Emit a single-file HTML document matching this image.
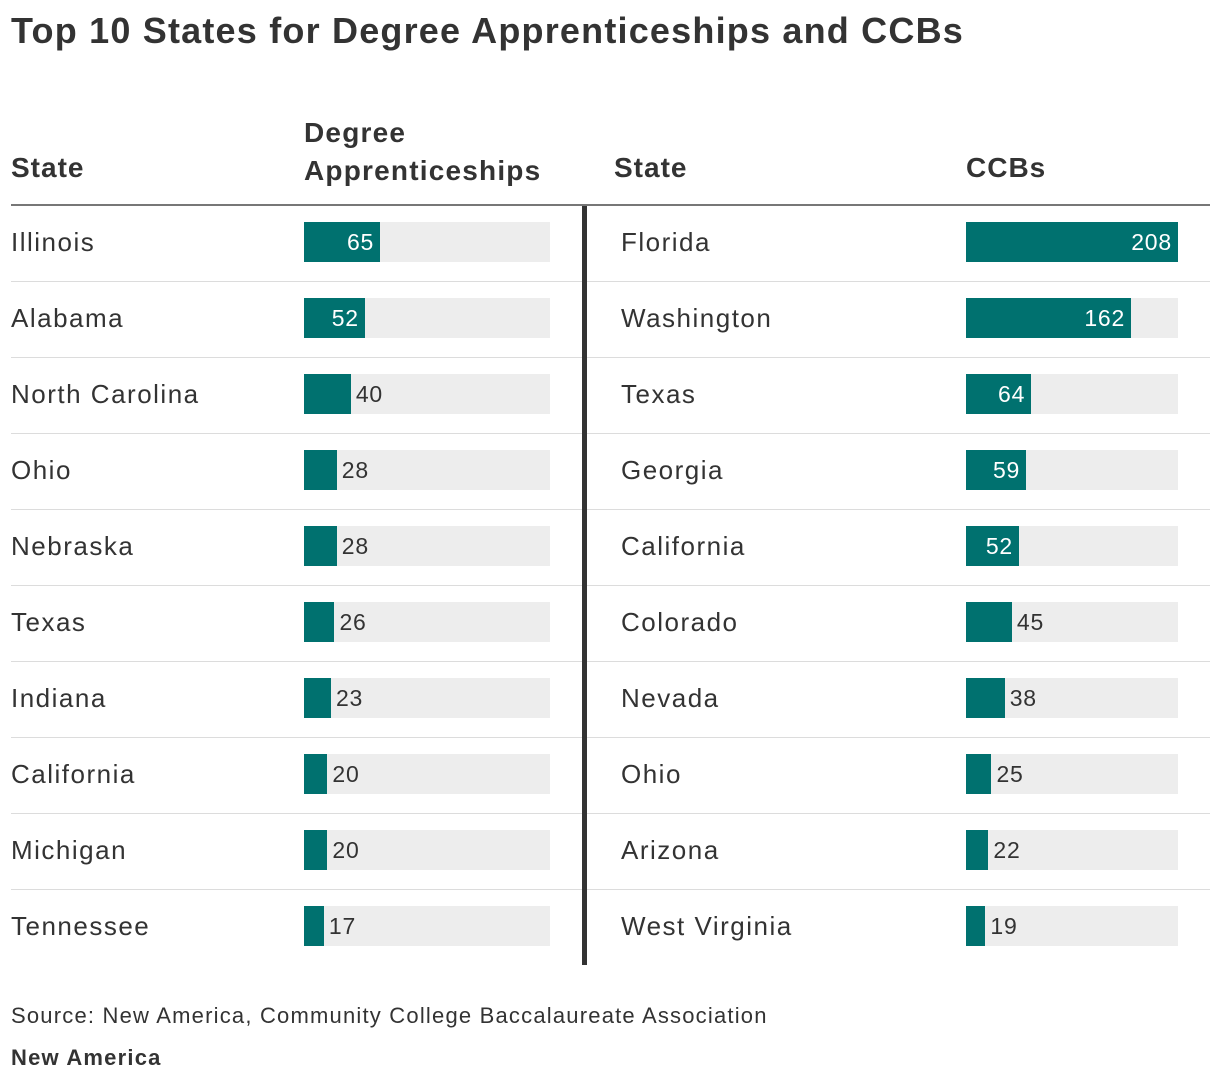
<!DOCTYPE html>
<html><head><meta charset="utf-8"><style>
body{margin:0;width:1220px;height:1082px;background:#fff;font-family:"Liberation Sans",sans-serif;color:#333;position:relative;overflow:hidden}
.a{position:absolute;white-space:nowrap}
</style></head><body>
<div class="a" style="left:11px;top:10px;font-size:36px;font-weight:bold;color:#333;letter-spacing:1.2px">Top 10 States for Degree Apprenticeships and CCBs</div>
<div class="a" style="left:11px;top:152px;font-size:28px;font-weight:bold;letter-spacing:1px">State</div>
<div class="a" style="left:304px;top:114px;font-size:28px;font-weight:bold;line-height:38px;letter-spacing:1.2px">Degree<br>Apprenticeships</div>
<div class="a" style="left:614px;top:152px;font-size:28px;font-weight:bold;letter-spacing:1px">State</div>
<div class="a" style="left:966px;top:152px;font-size:28px;font-weight:bold;letter-spacing:1px">CCBs</div>
<div class="a" style="left:11px;top:204px;width:1199px;height:2px;background:#777"></div>
<div id="rows"></div>
<div class="a" style="left:582px;top:206px;width:5px;height:759px;background:#333"></div>
<div class="a" style="left:11px;top:1003px;font-size:22px;letter-spacing:1.2px">Source: New America, Community College Baccalaureate Association</div>
<div class="a" style="left:11px;top:1045px;font-size:22px;font-weight:bold;letter-spacing:1.2px">New America</div>
<script>
const leftStates=["Illinois","Alabama","North Carolina","Ohio","Nebraska","Texas","Indiana","California","Michigan","Tennessee"];
const leftValues=[65,52,40,28,28,26,23,20,20,17];
const rightStates=["Florida","Washington","Texas","Georgia","California","Colorado","Nevada","Ohio","Arizona","West Virginia"];
const rightValues=[208,162,64,59,52,45,38,25,22,19];
const leftMax=210, rightMax=208;
const rows=document.getElementById('rows');
function mk(style,name,text){const d=document.createElement('div');d.className='a';d.style.cssText=style;


if(text!==undefined)d.textContent=text;rows.appendChild(d);return d;}
function bar(x0,trackW,max,v,top,name){
 mk(`left:${x0}px;top:${top+16}px;width:${trackW}px;height:40px;background:#ededed`,name+'-track');
 const w=v/max*trackW;
 mk(`left:${x0}px;top:${top+16}px;width:${w}px;height:40px;background:#00716f`,name);
 if(w>50) mk(`left:${x0}px;top:${top+23}px;width:${w-6}px;text-align:right;font-size:23px;color:#fff;letter-spacing:0.8px`,name+'-label',v);
 else mk(`left:${x0+w+5}px;top:${top+23}px;font-size:23px;color:#333;letter-spacing:0.8px`,name+'-label',v);
}
for(let i=0;i<10;i++){
 const top=206+i*76;
 mk(`left:${11}px;top:${top+21}px;font-size:26px;letter-spacing:1.5px`,'left-state-'+i,leftStates[i]);
 mk(`left:${621}px;top:${top+21}px;font-size:26px;letter-spacing:1.5px`,'right-state-'+i,rightStates[i]);
 bar(304,246,leftMax,leftValues[i],top,'left-bar-'+i);
 bar(966,212,rightMax,rightValues[i],top,'right-bar-'+i);
 if(i<9) mk(`left:11px;top:${top+75}px;width:1199px;height:1px;background:#dcdcdc`,'row-rule-'+i);
}
</script>
</body></html>
